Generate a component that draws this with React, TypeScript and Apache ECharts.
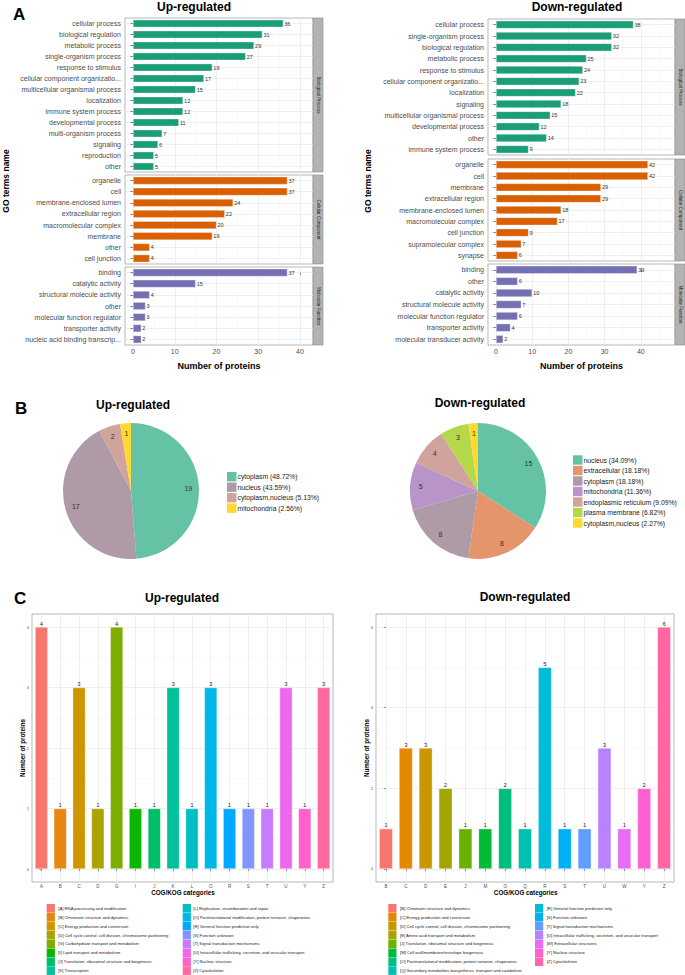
import React, { useEffect, useRef } from 'react';
import * as echarts from 'echarts';

// ---------------- Panel A: GO terms ----------------
const upBPNames = ['cellular process', 'biological regulation', 'metabolic process', 'single-organism process', 'response to stimulus', 'cellular component organizatio...', 'multicellular organismal process', 'localization', 'immune system process', 'developmental process', 'multi-organism process', 'signaling', 'reproduction', 'other'];
const upBPValues = [36, 31, 29, 27, 19, 17, 15, 12, 12, 11, 7, 6, 5, 5];
const upCCNames = ['organelle', 'cell', 'membrane-enclosed lumen', 'extracellular region', 'macromolecular complex', 'membrane', 'other', 'cell junction'];
const upCCValues = [37, 37, 24, 22, 20, 19, 4, 4];
const upMFNames = ['binding', 'catalytic activity', 'structural molecule activity', 'other', 'molecular function regulator', 'transporter activity', 'nucleic acid binding transcrip...'];
const upMFValues = [37, 15, 4, 3, 3, 2, 2];

const downBPNames = ['cellular process', 'single-organism process', 'biological regulation', 'metabolic process', 'response to stimulus', 'cellular component organizatio...', 'localization', 'signaling', 'multicellular organismal process', 'developmental process', 'other', 'immune system process'];
const downBPValues = [38, 32, 32, 25, 24, 23, 22, 18, 15, 12, 14, 9];
const downCCNames = ['organelle', 'cell', 'membrane', 'extracellular region', 'membrane-enclosed lumen', 'macromolecular complex', 'cell junction', 'supramolecular complex', 'synapse'];
const downCCValues = [42, 42, 29, 29, 18, 17, 9, 7, 6];
const downMFNames = ['binding', 'other', 'catalytic activity', 'structural molecule activity', 'molecular function regulator', 'transporter activity', 'molecular transducer activity'];
const downMFValues = [39, 6, 10, 7, 6, 4, 2];

const goStrips = ['Biological Process', 'Cellular Component', 'Molecular Function'];
const goColors = ['#1B9E77', '#D95F02', '#7570B3'];
const goMajorTicks = [0, 10, 20, 30, 40];
const goMinorTicksLeft = [5, 15, 25, 35];
const goMinorTicksRight = [5, 15, 25, 35, 45];

// ---------------- Panel B: subcellular location ----------------
const upLocNames = ['cytoplasm', 'nucleus', 'cytoplasm,nucleus', 'mitochondria'];
const upLocValues = [19, 17, 2, 1];
const upLocColors = ['#66C2A5', '#AF9AA7', '#D0A49B', '#FFD92F'];
const downLocNames = ['nucleus', 'extracellular', 'cytoplasm', 'mitochondria', 'endoplasmic reticulum', 'plasma membrane', 'cytoplasm,nucleus'];
const downLocValues = [15, 8, 8, 5, 4, 3, 1];
const downLocColors = ['#66C2A5', '#E4956B', '#AF9AA7', '#B894C8', '#D0A39C', '#B5D84B', '#FFD92F'];

// ---------------- Panel C: COG/KOG ----------------
const upCogCats = ['A', 'B', 'C', 'D', 'G', 'I', 'J', 'K', 'L', 'O', 'R', 'S', 'T', 'U', 'Y', 'Z'];
const upCogValues = [4, 1, 3, 1, 4, 1, 1, 3, 1, 3, 1, 1, 1, 3, 1, 3];
const upCogColors = ['#F8766D', '#E68613', '#CD9600', '#ABA300', '#7CAE00', '#0CB702', '#00BE67', '#00C19A', '#00BFC4', '#00B8E7', '#00A9FF', '#8494FF', '#C77CFF', '#ED68ED', '#FF61CC', '#FF68A1'];
const upCogLabels = ['[A] RNA processing and modification', '[B] Chromatin structure and dynamics', '[C] Energy production and conversion', '[D] Cell cycle control, cell division, chromosome partitioning', '[G] Carbohydrate transport and metabolism', '[I] Lipid transport and metabolism', '[J] Translation, ribosomal structure and biogenesis', '[K] Transcription', '[L] Replication, recombination and repair', '[O] Posttranslational modification, protein turnover, chaperones', '[R] General function prediction only', '[S] Function unknown', '[T] Signal transduction mechanisms', '[U] Intracellular trafficking, secretion, and vesicular transport', '[Y] Nuclear structure', '[Z] Cytoskeleton'];
const upCogTicks = [0, 1, 2, 3, 4];
const upCogMinor = [0.5, 1.5, 2.5, 3.5];

const downCogCats = ['B', 'C', 'D', 'E', 'J', 'M', 'O', 'Q', 'R', 'S', 'T', 'U', 'W', 'Y', 'Z'];
const downCogValues = [1, 3, 3, 2, 1, 1, 2, 1, 5, 1, 1, 3, 1, 2, 6];
const downCogColors = ['#F8766D', '#E58700', '#C99800', '#A3A500', '#6BB100', '#00BA38', '#00BF7D', '#00C0AF', '#00BCD8', '#00B0F6', '#619CFF', '#B983FF', '#E76BF3', '#FD61D1', '#FF67A4'];
const downCogLabels = ['[B] Chromatin structure and dynamics', '[C] Energy production and conversion', '[D] Cell cycle control, cell division, chromosome partitioning', '[E] Amino acid transport and metabolism', '[J] Translation, ribosomal structure and biogenesis', '[M] Cell wall/membrane/envelope biogenesis', '[O] Posttranslational modification, protein turnover, chaperones', '[Q] Secondary metabolites biosynthesis, transport and catabolism', '[R] General function prediction only', '[S] Function unknown', '[T] Signal transduction mechanisms', '[U] Intracellular trafficking, secretion, and vesicular transport', '[W] Extracellular structures', '[Y] Nuclear structure', '[Z] Cytoskeleton'];
const downCogTicks = [0, 2, 4, 6];
const downCogMinor = [1, 3, 5];

const FONT = '"Liberation Sans", Arial, Helvetica, sans-serif';
const GRID_LINE = '#ebebeb';
const BORDER = '#9a9a9a';
const AXIS_TEXT = '#4d4d4d';

function buildOption() {
  const grids: any[] = [];
  const xAxes: any[] = [];
  const yAxes: any[] = [];
  const series: any[] = [];
  const graphics: any[] = [];

  const text = (t: string, x: number, y: number, size: number, bold = false, align = 'center', rotation = 0, fill = '#000') => {
    graphics.push({
      type: 'text', x, y, rotation, silent: true,
      style: { text: t, fontSize: size, fontWeight: bold ? 'bold' : 'normal', fontFamily: FONT, fill, align, verticalAlign: 'middle' },
    });
  };

  // ---------- Panel A ----------
  const addGo = (facets: { names: string[]; values: number[] }[], L: any) => {
    const min = (L.panelL - L.zeroX) / L.unit;
    const max = (L.panelR - L.zeroX) / L.unit;
    facets.forEach((f, k) => {
      const gi = grids.length;
      const top = L.tops[k];
      const h = L.bottoms[k] - top;
      const isBottom = k === facets.length - 1;
      grids.push({ left: L.panelL, top, width: L.panelR - L.panelL, height: h, show: true, borderColor: BORDER, borderWidth: 0.7, backgroundColor: 'transparent' });
      const xi = xAxes.length;
      xAxes.push({
        type: 'value', gridIndex: gi, min, max,
        axisLine: { show: false },
        axisTick: { show: isBottom, customValues: goMajorTicks, length: 2.5, lineStyle: { color: '#333', width: 0.6 } },
        axisLabel: { show: isBottom, customValues: goMajorTicks, fontSize: 7, color: AXIS_TEXT, margin: 3, fontFamily: FONT },
        splitLine: { show: true, lineStyle: { color: GRID_LINE, width: 0.8 } },
      });
      xAxes.push({
        type: 'value', gridIndex: gi, min, max,
        axisLine: { show: false },
        axisTick: { show: false, customValues: L.minor },
        axisLabel: { show: false },
        splitLine: { show: true, lineStyle: { color: '#f3f3f3', width: 0.5 } },
      });
      const yi = yAxes.length;
      yAxes.push({
        type: 'category', gridIndex: gi, data: f.names, inverse: true,
        axisLine: { show: false },
        axisTick: { show: true, alignWithLabel: true, length: 2.5, lineStyle: { color: '#333', width: 0.6 } },
        axisLabel: { fontSize: 7, color: AXIS_TEXT, margin: 4, fontFamily: FONT },
        splitLine: { show: false },
      });
      yAxes.push({
        type: 'value', gridIndex: gi, min: -0.5, max: f.names.length - 0.5, inverse: true,
        axisLine: { show: false },
        axisTick: { show: false, customValues: f.names.map((_, i) => i) },
        axisLabel: { show: false },
        splitLine: { show: true, lineStyle: { color: GRID_LINE, width: 0.8 } },
      });
      series.push({
        type: 'bar', xAxisIndex: xi, yAxisIndex: yi, data: f.values, barWidth: '70%', silent: true,
        itemStyle: { color: goColors[k], borderColor: 'rgba(255,255,255,0.55)', borderWidth: 0.6 },
        label: { show: true, position: 'right', distance: 1, fontSize: 5.5, color: '#333', fontFamily: FONT },
      });
      // facet strip
      graphics.push({ type: 'rect', silent: true, shape: { x: L.panelR, y: top, width: 10, height: h }, style: { fill: '#b3b3b3', stroke: '#8a8a8a', lineWidth: 0.6 } });
      text(goStrips[k], L.panelR + 5, top + h / 2, 4.5, false, 'center', -Math.PI / 2, '#1a1a1a');
    });
  };

  addGo(
    [{ names: upBPNames, values: upBPValues }, { names: upCCNames, values: upCCValues }, { names: upMFNames, values: upMFValues }],
    { panelL: 125, panelR: 313, zeroX: 133, unit: 4.175, tops: [18, 175, 267], bottoms: [172, 264, 345], minor: goMinorTicksLeft },
  );
  addGo(
    [{ names: downBPNames, values: downBPValues }, { names: downCCNames, values: downCCValues }, { names: downMFNames, values: downMFValues }],
    { panelL: 488, panelR: 675, zeroX: 496, unit: 3.62, tops: [19, 159, 264], bottoms: [155, 261, 345], minor: goMinorTicksRight },
  );

  text('A', 13, 14, 17, true, 'left');
  text('Up-regulated', 194, 7, 12, true);
  text('Down-regulated', 577, 7, 12, true);
  text('GO terms name', 6, 181, 8.5, true, 'center', Math.PI / 2);
  text('GO terms name', 368, 181, 8.5, true, 'center', Math.PI / 2);
  text('Number of proteins', 219, 366, 9, true);
  text('Number of proteins', 581.5, 366, 9, true);

  // ---------- Panel B ----------
  const addPie = (names: string[], values: number[], colors: string[], cx: number, cy: number, r: number, legX: number, legY: number) => {
    const total = values.reduce((a, b) => a + b, 0);
    const data = names.map((n, i) => ({ name: `${n} (${((values[i] / total) * 100).toFixed(2)}%)`, value: values[i], itemStyle: { color: colors[i] } }));
    series.push({
      type: 'pie', center: [cx, cy], radius: [0, r], startAngle: 90, clockwise: true, silent: true,
      label: { show: false }, labelLine: { show: false }, emphasis: { disabled: true }, data,
    });
    series.push({
      type: 'pie', center: [cx, cy], radius: [r * 0.6, r], startAngle: 90, clockwise: true, silent: true,
      itemStyle: { color: 'rgba(0,0,0,0)' }, emphasis: { disabled: true }, labelLine: { show: false },
      label: { show: true, position: 'inside', formatter: '{c}', fontSize: 7, color: '#333', fontFamily: FONT },
      data: values.map((v, i) => ({ name: names[i] + ' ', value: v })),
    });
    data.forEach((d, i) => {
      const yc = legY + i * 10.5;
      graphics.push({ type: 'rect', silent: true, shape: { x: legX, y: yc - 4.7, width: 9.5, height: 9.4 }, style: { fill: colors[i] } });
      text(d.name, legX + 10.5, yc, 6.8, false, 'left', 0, '#1a1a1a');
    });
  };
  addPie(upLocNames, upLocValues, upLocColors, 131, 491, 68, 227, 476.7);
  addPie(downLocNames, downLocValues, downLocColors, 478, 491, 68, 573, 460);

  text('B', 15, 408, 17, true, 'left');
  text('Up-regulated', 133, 405, 12, true);
  text('Down-regulated', 480, 403, 12, true);

  // ---------- Panel C ----------
  const addCog = (cats: string[], values: number[], colors: string[], ticks: number[], minor: number[], L: any) => {
    const gi = grids.length;
    const min = -(L.bottom - L.zeroY) / L.unit;
    const max = ticks[ticks.length - 1] + (L.topTickY - L.top) / L.unit;
    grids.push({ left: L.left, top: L.top, width: L.right - L.left, height: L.bottom - L.top, show: true, borderColor: BORDER, borderWidth: 0.7, backgroundColor: 'transparent' });
    const xi = xAxes.length;
    xAxes.push({
      type: 'category', gridIndex: gi, data: cats,
      axisLine: { show: false },
      axisTick: { show: true, alignWithLabel: true, length: 2, lineStyle: { color: '#333', width: 0.5 } },
      axisLabel: { fontSize: 4.5, color: AXIS_TEXT, margin: 2, fontFamily: FONT },
      splitLine: { show: false },
    });
    xAxes.push({
      type: 'value', gridIndex: gi, min: -0.5, max: cats.length - 0.5,
      axisLine: { show: false }, axisLabel: { show: false },
      axisTick: { show: false, customValues: cats.map((_, i) => i) },
      splitLine: { show: true, lineStyle: { color: GRID_LINE, width: 0.8 } },
    });
    const yi = yAxes.length;
    yAxes.push({
      type: 'value', gridIndex: gi, min, max,
      axisLine: { show: false },
      axisTick: { show: true, customValues: ticks, length: 2, lineStyle: { color: '#333', width: 0.5 } },
      axisLabel: { customValues: ticks, fontSize: 4, color: AXIS_TEXT, margin: 3, fontFamily: FONT },
      splitLine: { show: true, lineStyle: { color: GRID_LINE, width: 0.8 } },
    });
    yAxes.push({
      type: 'value', gridIndex: gi, min, max,
      axisLine: { show: false }, axisLabel: { show: false },
      axisTick: { show: false, customValues: minor },
      splitLine: { show: true, lineStyle: { color: '#f3f3f3', width: 0.5 } },
    });
    series.push({
      type: 'bar', xAxisIndex: xi, yAxisIndex: yi, barWidth: '68%', silent: true,
      data: values.map((v, i) => ({ value: v, itemStyle: { color: colors[i] } })),
      itemStyle: { borderColor: 'rgba(255,255,255,0.55)', borderWidth: 0.6 },
      label: { show: true, position: 'top', distance: 0.5, fontSize: 6, color: '#333', fontFamily: FONT },
    });
  };
  addCog(upCogCats, upCogValues, upCogColors, upCogTicks, upCogMinor, { left: 32, right: 333, top: 614, bottom: 882, zeroY: 869, topTickY: 627, unit: 60.5 });
  addCog(downCogCats, downCogValues, downCogColors, downCogTicks, downCogMinor, { left: 376, right: 674, top: 614, bottom: 882, zeroY: 869, topTickY: 627, unit: 40.33 });

  text('C', 14, 598, 17, true, 'left');
  text('Up-regulated', 182, 597.5, 12, true);
  text('Down-regulated', 525, 597, 12, true);
  text('Number of proteins', 22, 748, 6.3, true, 'center', Math.PI / 2);
  text('Number of proteins', 366.5, 748, 6.3, true, 'center', Math.PI / 2);
  text('COG/KOG categories', 183, 892.7, 6.3, true);
  text('COG/KOG categories', 525.7, 892.7, 6.3, true);

  const cogLegend = (labels: string[], colors: string[], cols: number[][]) => {
    labels.forEach((t, i) => {
      const col = i < 8 ? 0 : 1;
      const row = i % 8;
      const yc = 908.3 + row * 8.9;
      graphics.push({ type: 'rect', silent: true, shape: { x: cols[col][0], y: yc - 4.3, width: 8.2, height: 8.6 }, style: { fill: colors[i] } });
      text(t, cols[col][1], yc, 4.2, false, 'left', 0, '#1a1a1a');
    });
  };
  cogLegend(upCogLabels, upCogColors, [[46.7, 58.3], [182.7, 193.3]]);
  cogLegend(downCogLabels, downCogColors, [[388.3, 400], [535, 546.7]]);

  return {
    animation: false,
    backgroundColor: '#ffffff',
    textStyle: { fontFamily: FONT },
    grid: grids,
    xAxis: xAxes,
    yAxis: yAxes,
    series,
    graphic: { elements: graphics },
  };
}

export default function App() {
  const ref = useRef<HTMLDivElement>(null);
  useEffect(() => {
    if (!ref.current) return;
    const chart = echarts.init(ref.current, undefined, { renderer: 'svg' });
    chart.setOption(buildOption() as any);
    return () => chart.dispose();
  }, []);
  return <div ref={ref} style={{ position: 'absolute', left: 0, top: 0, width: 685, height: 975, background: '#fff' }} />;
}
